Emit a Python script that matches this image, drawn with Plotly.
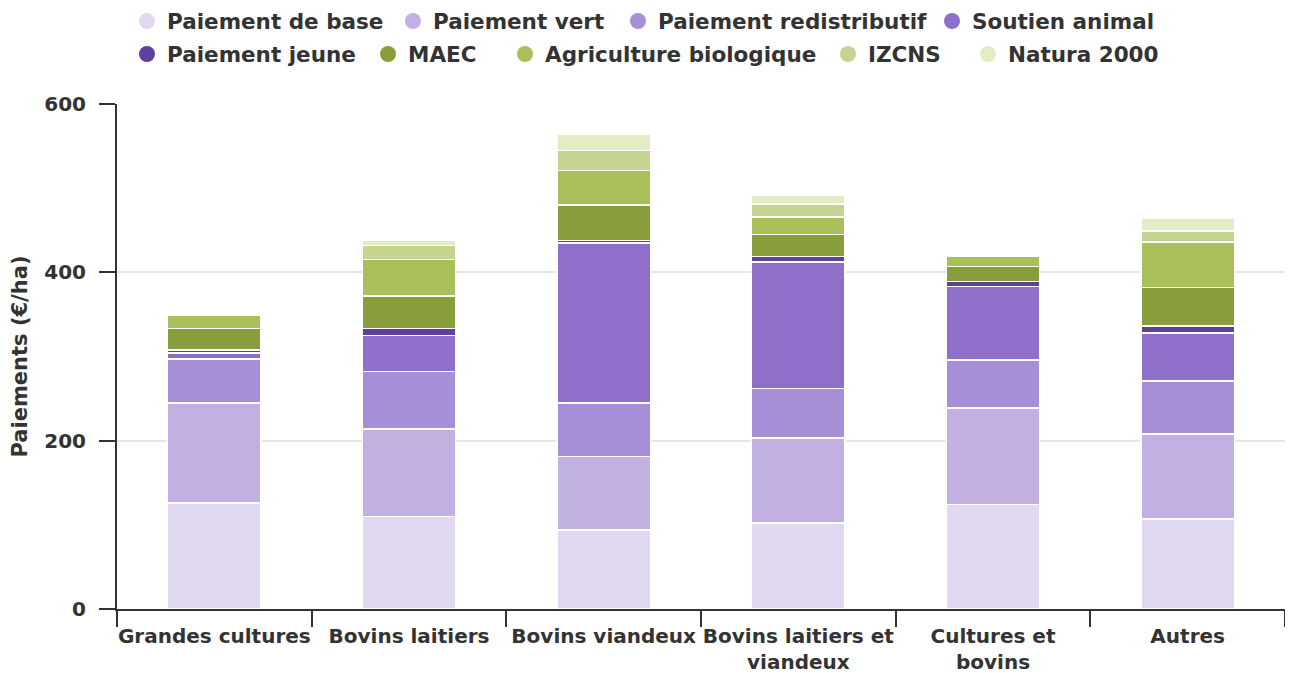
import plotly.graph_objects as go

categories = ["Grandes cultures", "Bovins laitiers", "Bovins viandeux",
              "Bovins laitiers et<br>viandeux", "Cultures et<br>bovins", "Autres"]

paiement_base = [126, 110, 94, 102, 124, 107]
paiement_vert = [119, 104, 87, 101, 115, 101]
paiement_redistributif = [52, 68, 64, 59, 57, 63]
soutien_animal = [7, 43, 190, 150, 87, 57]
paiement_jeune = [4, 8, 3, 7, 6, 8]
maec = [25, 39, 42, 26, 18, 46]
agriculture_bio = [16, 43, 41, 21, 12, 54]
izcns = [0, 17, 24, 15, 0, 13]
natura_2000 = [0, 6, 19, 11, 0, 15]

series = [
    ("Paiement de base", paiement_base, "#e1d9f2"),
    ("Paiement vert", paiement_vert, "#c2b0e3"),
    ("Paiement redistributif", paiement_redistributif, "#a68fd7"),
    ("Soutien animal", soutien_animal, "#8e70cb"),
    ("Paiement jeune", paiement_jeune, "#5f409a"),
    ("MAEC", maec, "#889e3c"),
    ("Agriculture biologique", agriculture_bio, "#a8bf5a"),
    ("IZCNS", izcns, "#c5d591"),
    ("Natura 2000", natura_2000, "#e2ecc5"),
]

# legend entry placement (page px): circle centre x, row centre y
legend_pos = [(147, 21), (413, 21), (638, 21), (952, 21),
              (147, 54), (388, 54), (525, 54), (848, 54), (988, 54)]

FONT = "DejaVu Sans"
TXT = "#333333"
# the page body adds an 8px margin, so the figure is drawn 8px smaller
W, H = 1285, 665
fig = go.Figure()

legends = {}
leg_font = dict(family=FONT, size=21.5, color=TXT, weight="bold")
for i, (name, values, color) in enumerate(series):
    fig.add_trace(go.Bar(
        x=categories, y=values, name=name, showlegend=False,
        marker=dict(color=color, line=dict(color="white", width=1.5)),
    ))
    leg = "legend" if i == 0 else f"legend{i + 1}"
    # circle legend entry, one small legend per item
    fig.add_trace(go.Scatter(
        x=[None], y=[None], mode="markers", name=name, legend=leg,
        marker=dict(color=color, size=20, symbol="circle"),
    ))
    cx, cy = legend_pos[i]
    legends[leg] = dict(
        orientation="h", x=(cx - 8 - 20) / W, xref="container", xanchor="left",
        y=1 - (cy - 8) / H, yref="container", yanchor="middle",
        font=leg_font, bgcolor="rgba(0,0,0,0)",
    )

fig.update_layout(
    barmode="stack",
    bargap=0.52,
    width=W, height=H,
    margin=dict(l=109, r=8, t=96, b=64, autoexpand=False),
    plot_bgcolor="white", paper_bgcolor="white",
    font=dict(family=FONT, size=18, color=TXT, weight="bold"),
    **legends,
)

fig.update_xaxes(
    showline=True, linecolor=TXT, linewidth=2,
    ticks="outside", tickson="boundaries", ticklen=16, tickwidth=2, tickcolor=TXT,
    tickangle=0, ticklabelstandoff=8,
    tickfont=dict(family=FONT, size=20, color=TXT, weight="bold"),
    showgrid=False,
)
fig.update_yaxes(
    range=[0, 600], dtick=200,
    showline=True, linecolor=TXT, linewidth=2,
    ticks="outside", ticklen=16, tickwidth=2, tickcolor=TXT,
    ticklabelstandoff=9,
    tickfont=dict(family=FONT, size=20, color=TXT, weight="bold"),
    showgrid=True, gridcolor="#e6e6e6", gridwidth=1.5,
    zeroline=False,
    title=dict(text="Paiements (€/ha)", font=dict(family=FONT, size=21, color=TXT, weight="bold")),
)

fig.write_html("out.html")
